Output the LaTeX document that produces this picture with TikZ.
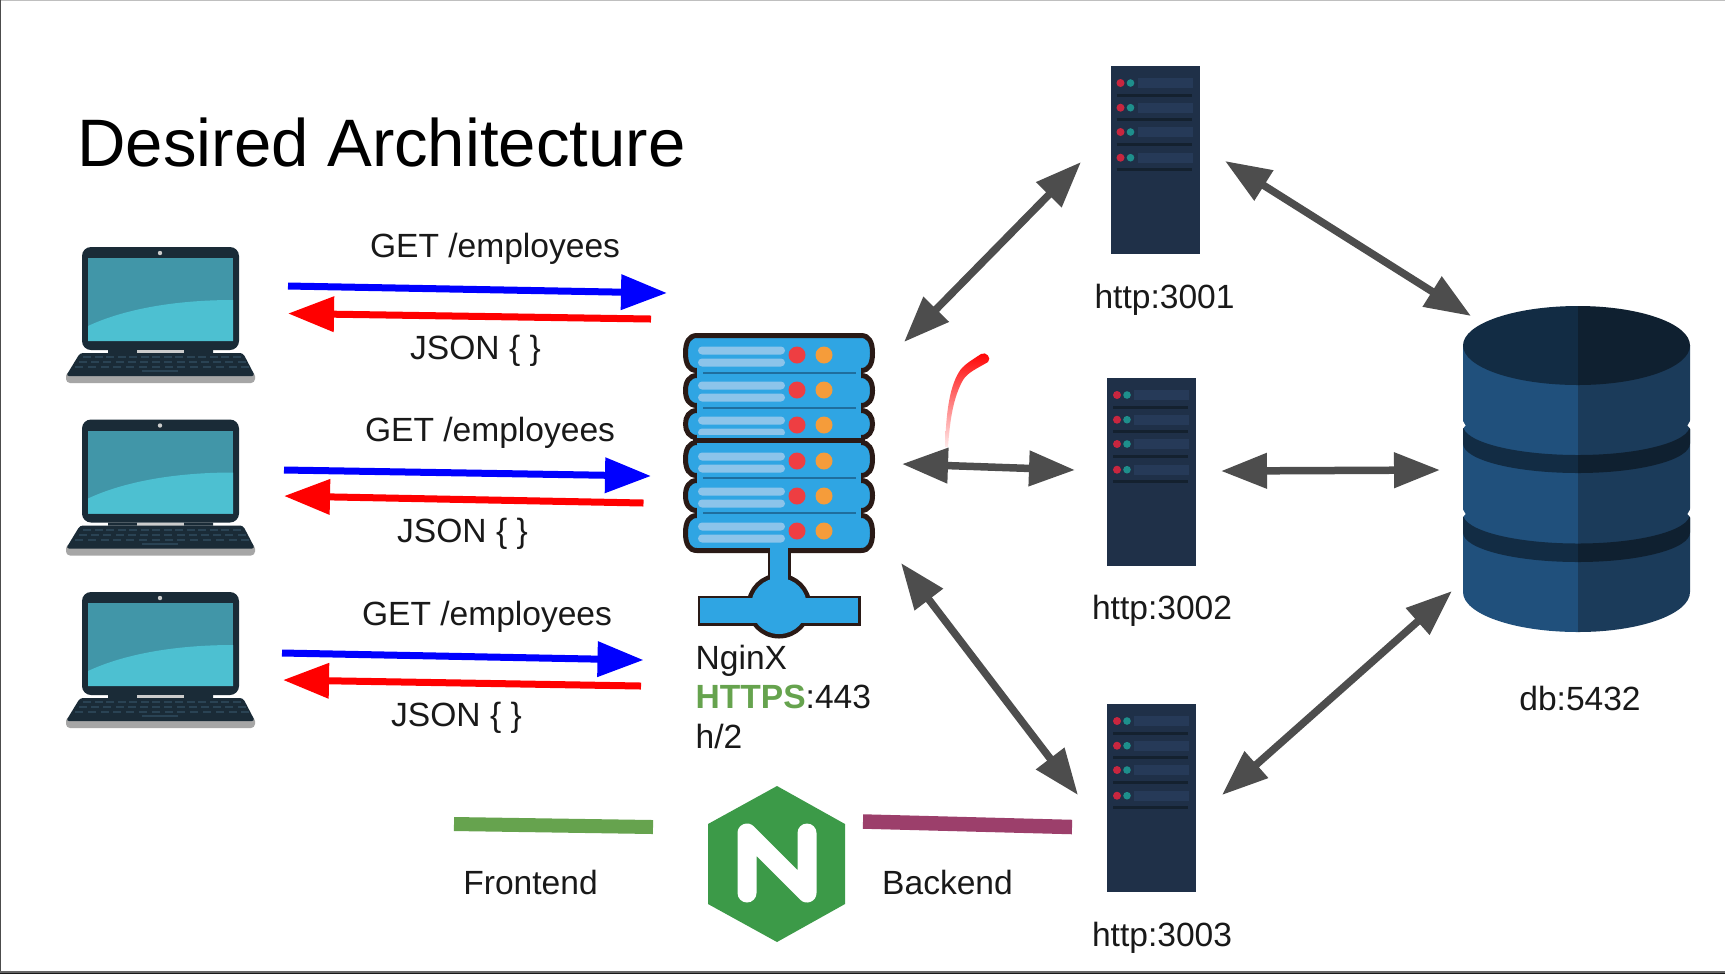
\documentclass[tikz,border=0pt]{standalone}
\usepackage{fontspec}
\setmainfont{Liberation Sans}
\usetikzlibrary{arrows.meta}
\definecolor{frontgreen}{HTML}{66A34E}
\definecolor{backpurple}{HTML}{9C3F6B}
\definecolor{nginxgreen}{HTML}{3C9A48}
\definecolor{arrowgray}{HTML}{4D4D4D}
\definecolor{framedark}{HTML}{2A1A16}
\definecolor{rowblue}{HTML}{2FA5E3}
\definecolor{rowline}{HTML}{1F6E9E}
\definecolor{rowlight}{HTML}{8CC4EA}
\definecolor{rowred}{HTML}{EE3E42}
\definecolor{roworange}{HTML}{F59C3A}
\definecolor{rackbody}{HTML}{1F3048}
\definecolor{rackbar}{HTML}{263A58}
\definecolor{rackline}{HTML}{14212F}
\definecolor{rackred}{HTML}{C8263F}
\definecolor{rackteal}{HTML}{1E8F8C}
\definecolor{lapbody}{HTML}{1A2B37}
\definecolor{lapdark}{HTML}{4196A8}
\definecolor{laplight}{HTML}{4DC0D1}
\definecolor{lapkey}{HTML}{2A4354}
\definecolor{dbleft}{HTML}{20507C}
\definecolor{dbright}{HTML}{1B3B5A}
\definecolor{dbtopl}{HTML}{122C44}
\definecolor{dbtopr}{HTML}{0F2030}
\tikzset{
  label/.style={text=black!90,font=\fontsize{9.55}{11.3}\selectfont},
  bigarrow/.style={arrowgray,line width=.75mm,{Triangle[length=4.6mm,width=3.4mm]}-{Triangle[length=4.6mm,width=3.4mm]}},
  getarrow/.style={blue,line width=.7mm,-{Triangle[length=4.6mm,width=3.4mm]}},
  jsonarrow/.style={red,line width=.7mm,-{Triangle[length=4.6mm,width=3.4mm]}},
  laptop/.pic={
    \fill[lapbody] (0,0) [rounded corners=.9mm] rectangle (157,103);
    \fill[lapdark] (6,11) rectangle (151,94);
    \fill[laplight] (6,79) .. controls (40,63) and (90,53) .. (151,53) -- (151,94) -- (6,94) -- cycle;
    \fill[white!80!black] (78,6) circle (2.2);
    \fill[lapbody] (26,103) rectangle (55,106) (102,103) rectangle (131,106);
    \fill[black!20] (55,103) rectangle (102,106);
    \fill[black!35] (-16,125) [rounded corners=.4mm] rectangle (173,136);
    \fill[lapbody,rounded corners=.3mm] (-2,106) -- (161,106) -- (173,129) -- (-16,129) -- cycle;
    \foreach \ky/\kx/\ks in {109/1/11.5,114/-3/12.2,119/-7/12.8}
      \foreach \kn in {0,...,13}
        \fill[lapkey] ({\kx+\kn*\ks},\ky) rectangle ++(8,2);
    \fill[lapkey] (60,123) rectangle (96,125);
  },
  rack/.pic={
    \fill[rackbody] (0,0) rectangle (89,188);
    \foreach \ry in {17,41.7,66,91.7} {
      \fill[rackbar] (27,\ry-5) rectangle (82,\ry+5);
      \fill[rackred] (10,\ry) circle (4);
      \fill[rackteal] (20,\ry) circle (3.8);
      \draw[rackline,line width=.3mm] (6,\ry+12) -- (81,\ry+12);
    }
  },
}
\begin{document}
\begin{tikzpicture}[x=.1mm,y=-.1mm]
\useasboundingbox (0,0) rectangle (1725,974);
\fill[white] (0,0) rectangle (1725,974);
\draw[black!25,line width=.2mm] (0,0) -- (1725,0);
\draw[black!70,line width=.3mm] (0,974) -- (0,0);
\fill[black!60] (0,971.3) rectangle (1725,972.5);
\fill[black!90] (0,972.5) rectangle (1725,974);

\node[text=black,font=\fontsize{19.1}{22}\selectfont] (title) at (381.5,142) {Desired Architecture};

% clients
\pic at (82,247) {laptop};
\pic at (82,419.5) {laptop};
\pic at (82,592) {laptop};

\coordinate (g1s) at (288,286); \coordinate (g1e) at (667,293);
\coordinate (j1s) at (651,319); \coordinate (j1e) at (288,313.5);
\coordinate (g2s) at (284,470); \coordinate (g2e) at (651,476);
\coordinate (j2s) at (643.5,503); \coordinate (j2e) at (284,496);
\coordinate (g3s) at (282,653); \coordinate (g3e) at (643.5,660);
\coordinate (j3s) at (641,686); \coordinate (j3e) at (283,680);
\foreach \n in {1,2,3} {
  \draw[getarrow] (g\n s) -- (g\n e);
  \draw[jsonarrow] (j\n s) -- (j\n e);
}
\node[label] (get1) at (495,249) {GET /employees};
\node[label] (get2) at (490,433) {GET /employees};
\node[label] (get3) at (487,617) {GET /employees};
\node[label] (json1) at (475.5,351) {JSON \{ \}};
\node[label] (json2) at (462.5,534) {JSON \{ \}};
\node[label] (json3) at (456.5,718) {JSON \{ \}};

% nginx box
\foreach \ta/\tb/\dy in {513/553/531,478/513/496,440/478/461,408/440/425,373/408/390,333/373/355} {
  \draw[framedark,fill=rowblue,line width=.5mm]
    (697,\ta+2.5) -- (861,\ta+2.5) .. controls (869,\ta+2.5) and (872.5,\ta+9) .. (872.5,{(\ta+\tb)/2})
    .. controls (872.5,\tb-9) and (869,\tb-2.5) .. (861,\tb-2.5) -- (697,\tb-2.5)
    .. controls (689,\tb-2.5) and (685.5,\tb-9) .. (685.5,{(\ta+\tb)/2})
    .. controls (685.5,\ta+9) and (689,\ta+2.5) .. (697,\ta+2.5) -- cycle;
  \fill[rowlight,rounded corners=.4mm] (698,\dy-8.5) rectangle (785,\dy-.5);
  \fill[rowlight,rounded corners=.4mm] (698,\dy+3.5) rectangle (785,\dy+11.5);
  \fill[rowred] (797,\dy) circle (8.5);
  \fill[roworange] (824,\dy) circle (8.5);
}
\foreach \sy in {373,408,478,513} {
  \fill[rowblue] (697,\sy-5.5) rectangle (861,\sy+5.5);
  \draw[rowline,line width=.15mm] (703,\sy) -- (856,\sy);
}
\fill[rowblue] (697,434.5) rectangle (861,445.5);
\draw[framedark,line width=.5mm] (693,440) -- (865,440);
\draw[framedark,fill=rowblue,line width=.5mm] (700,598) rectangle (858,623);
\draw[framedark,fill=rowblue,line width=.5mm] (770,551) rectangle (788,600);
\draw[framedark,fill=rowblue,line width=.5mm] (779,606) circle (30);
\fill[rowblue] (700,598) rectangle (858,623);
\fill[rowblue] (770,546) rectangle (788,600);
\fill[rowblue] (779,606) circle (28);

\node[label,anchor=north west,align=left,inner sep=0pt] (nginx) at (695,644) {NginX\\{\color{frontgreen}\bfseries HTTPS}:443\\h/2};

% pen stroke
\shade[top color=red,middle color=red!45,bottom color=red!8]
  (981,354) .. controls (972,360) and (963,365) .. (959,372) .. controls (949,388) and (946,415) .. (945,447)
  -- (948,447) .. controls (950,420) and (953,398) .. (963,380) .. controls (968,372) and (978,368) .. (988,362)
  .. controls (992,358) and (986,351) .. (981,354) -- cycle;

% app servers
\pic at (1110.5,66) {rack};
\pic at (1107,378) {rack};
\pic at (1107,704) {rack};
\node[label] (app1) at (1164.5,300) {http:3001};
\node[label] (app2) at (1162,611) {http:3002};
\node[label] (app3) at (1162,938) {http:3003};

% database
\fill[dbleft] (1463,345) -- (1463,592) arc[start angle=180,end angle=90,x radius=115,y radius=40] -- (1578,345) -- cycle;
\fill[dbright] (1578,345) -- (1578,632) arc[start angle=90,end angle=0,x radius=112,y radius=40] -- (1690,345) -- cycle;
\fill[dbtopl] (1578,306) arc[start angle=270,end angle=180,x radius=115,y radius=39.5] arc[start angle=180,end angle=90,x radius=115,y radius=39.5] -- cycle;
\fill[dbtopr] (1578,306) arc[start angle=270,end angle=360,x radius=112,y radius=39.5] arc[start angle=0,end angle=90,x radius=112,y radius=39.5] -- cycle;
\foreach \ba/\bb in {425.5/443.5,514/532.5} {
  \fill[dbtopl] (1463,\ba) arc[start angle=180,end angle=90,x radius=115,y radius=29.5] -- (1578,\bb+29.5) arc[start angle=90,end angle=180,x radius=115,y radius=29.5] -- cycle;
  \fill[dbtopr] (1690,\ba) arc[start angle=0,end angle=90,x radius=112,y radius=29.5] -- (1578,\bb+29.5) arc[start angle=90,end angle=0,x radius=112,y radius=29.5] -- cycle;
  \fill[white] (1462,\ba-6) -- (1465.5,\ba) -- (1462,\ba+4) -- cycle;
  \fill[white] (1691,\ba-6) -- (1687.5,\ba) -- (1691,\ba+4) -- cycle;
}
\node[label] (db) at (1580,698) {db:5432};

\coordinate (na) at (904,342); \coordinate (s1a) at (1081,162);
\coordinate (nb) at (902,464); \coordinate (s2a) at (1075,470);
\coordinate (nc) at (901,563); \coordinate (s3a) at (1078,795);
\coordinate (s1b) at (1225,161); \coordinate (da) at (1471,316);
\coordinate (s2b) at (1221,471); \coordinate (db2) at (1440,470);
\coordinate (s3b) at (1222,795); \coordinate (dc) at (1452,591);
\draw[bigarrow] (na) -- (s1a);
\draw[bigarrow] (nb) -- (s2a);
\draw[bigarrow] (nc) -- (s3a);
\draw[bigarrow] (s1b) -- (da);
\draw[bigarrow] (s2b) -- (db2);
\draw[bigarrow] (s3b) -- (dc);

% legend
\coordinate (fl) at (454,824); \coordinate (fr) at (653,827);
\coordinate (bl) at (863,821.5); \coordinate (br) at (1072,827);
\draw[frontgreen,line width=1.4mm] (fl) -- (fr);
\draw[backpurple,line width=1.45mm] (bl) -- (br);
\node[label] (front) at (530.5,882) {Frontend};
\node[label] (back) at (947.5,882) {Backend};
\fill[nginxgreen] (777,786) -- (845,824) -- (845,904) -- (777,942) -- (708,904) -- (708,824) -- cycle;
\draw[white,line width=1.9mm,line cap=round,line join=round] (747,893) -- (747,833) -- (807,893) -- (807,833);
\end{tikzpicture}
\end{document}
